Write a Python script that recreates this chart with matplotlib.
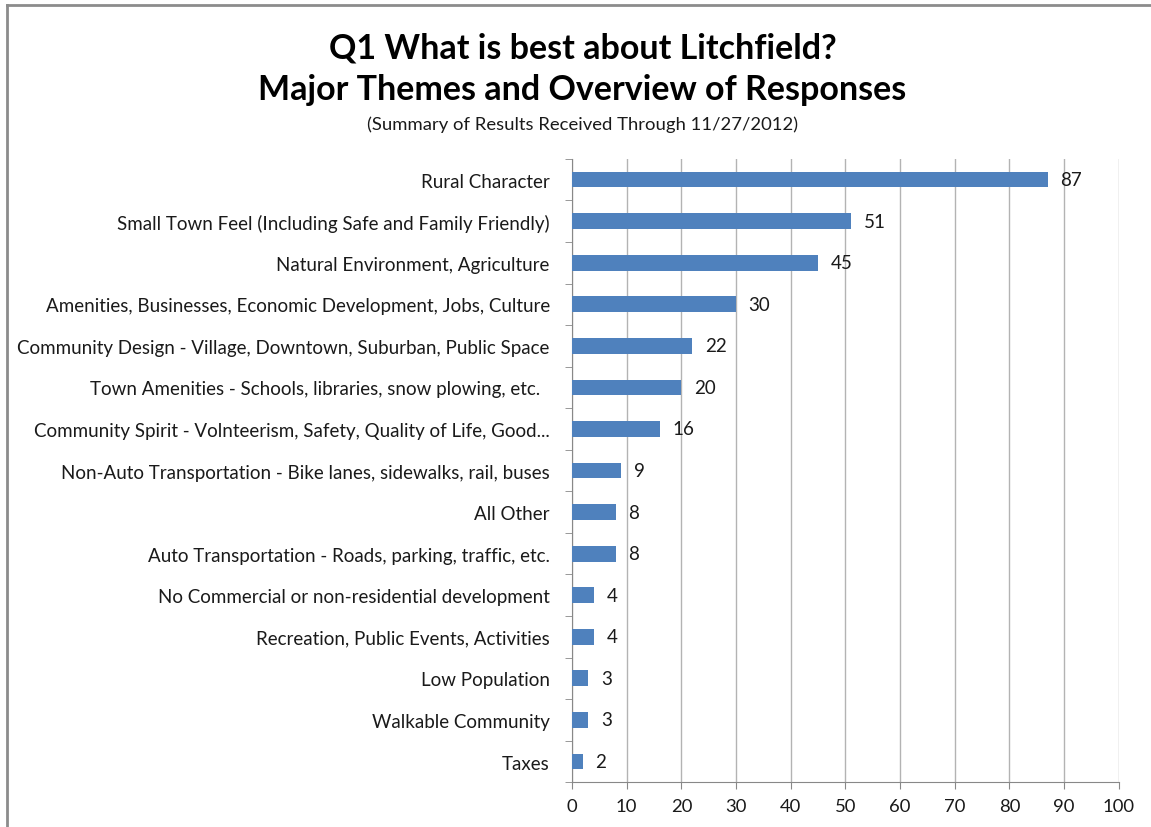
import matplotlib
matplotlib.use("Agg")
import matplotlib.pyplot as plt
from matplotlib.lines import Line2D

BAR = "#4F81BD"
GRID = "#B3B3B3"
TEXT = "#1a1a1a"

categories = [
    "Rural Character",
    "Small Town Feel (Including Safe and Family Friendly)",
    "Natural Environment, Agriculture",
    "Amenities, Businesses, Economic Development, Jobs, Culture",
    "Community Design - Village, Downtown, Suburban, Public Space",
    "Town Amenities - Schools, libraries, snow plowing, etc.  ",
    "Community Spirit - Volnteerism, Safety, Quality of Life, Good...",
    "Non-Auto Transportation - Bike lanes, sidewalks, rail, buses",
    "All Other",
    "Auto Transportation - Roads, parking, traffic, etc.",
    "No Commercial or non-residential development",
    "Recreation, Public Events, Activities",
    "Low Population",
    "Walkable Community",
    "Taxes",
]
counts = [87, 51, 45, 30, 22, 20, 16, 9, 8, 8, 4, 4, 3, 3, 2]
xticks = list(range(0, 101, 10))

plt.rcParams["font.family"] = ["Lato", "DejaVu Sans"]

fig = plt.figure(figsize=(11.51, 8.28), dpi=100)
fig.patch.set_facecolor("white")
ax = fig.add_axes([0.497, 0.054, 0.475, 0.753])

ypos = list(range(len(categories)))[::-1]
ax.barh(ypos, counts, height=0.38, color=BAR, zorder=3)
for y, v in zip(ypos, counts):
    ax.text(v + 2.3, y, str(v), va="center", ha="left", fontsize=13.5,
            color=TEXT, zorder=4)

ax.set_xlim(0, 100)
ax.set_ylim(-0.5, len(categories) - 0.5)
ax.set_xticks(xticks)
ax.set_xticklabels([str(t) for t in xticks], fontsize=13.3, color=TEXT)
ax.set_yticks(ypos)
ax.set_yticklabels(categories, fontsize=13.5, color=TEXT)
ax.set_yticks([i - 0.5 for i in range(len(categories) + 1)], minor=True)
ax.tick_params(axis="y", which="major", length=0, pad=16)
ax.tick_params(axis="y", which="minor", length=5, color="#888888", direction="out")
ax.tick_params(axis="x", length=5, color="#888888", direction="out", pad=6)
ax.grid(axis="x", color=GRID, linewidth=1, zorder=0)
for s in ["top", "right"]:
    ax.spines[s].set_visible(False)
for s in ["bottom", "left"]:
    ax.spines[s].set_color("#888888")

fig.text(0.506, 0.942, "Q1 What is best about Litchfield?", ha="center",
         va="center", fontsize=24.5, fontweight="bold", color="black")
fig.text(0.506, 0.891, "Major Themes and Overview of Responses", ha="center",
         va="center", fontsize=24.5, fontweight="bold", color="black")
fig.text(0.506, 0.849, "(Summary of Results Received Through 11/27/2012)",
         ha="center", va="center", fontsize=13.3, color=TEXT)

# chart frame (left and top edges visible)
fig.add_artist(Line2D([0.0065, 0.0065], [0.0, 0.9925], color="#8c8c8c",
                      linewidth=2, transform=fig.transFigure))
fig.add_artist(Line2D([0.0065, 1.0], [0.9925, 0.9925], color="#8c8c8c",
                      linewidth=2, transform=fig.transFigure))

fig.savefig("out.png", dpi=100)
